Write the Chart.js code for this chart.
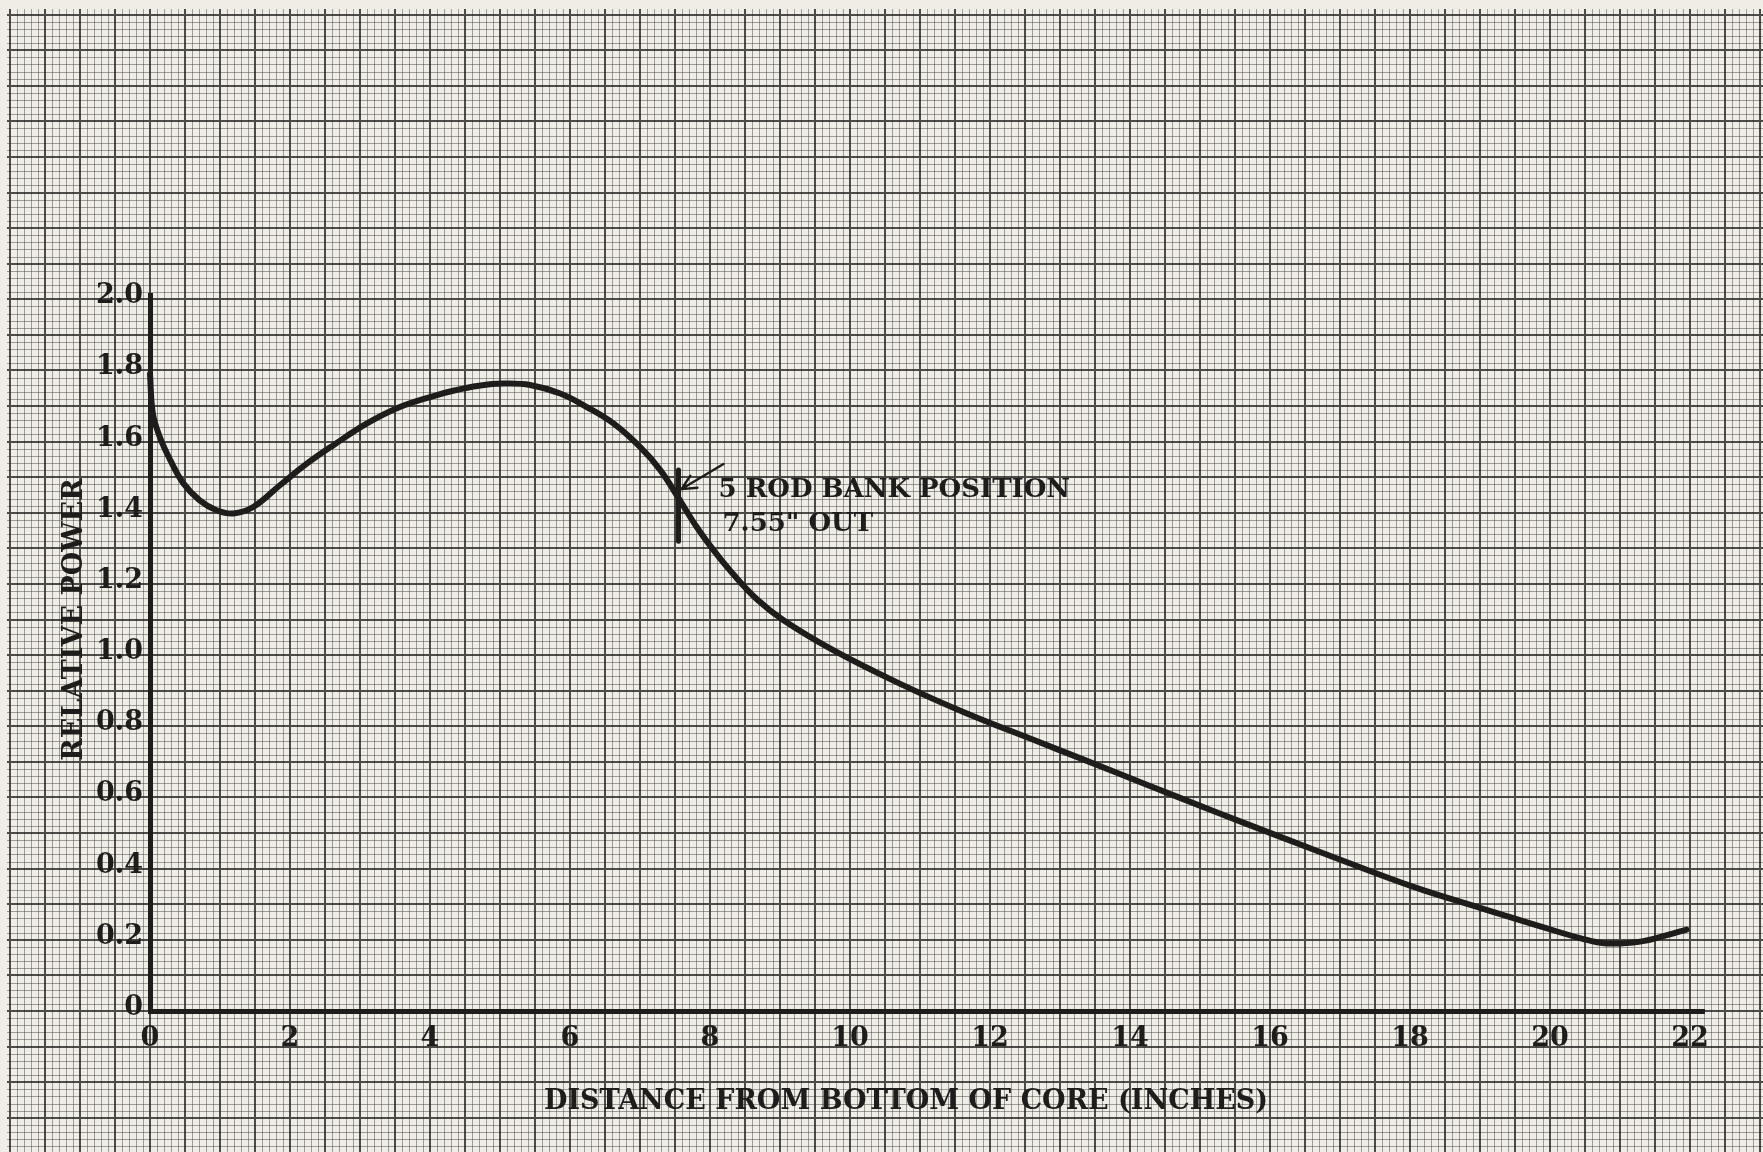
<!DOCTYPE html>
<html>
<head>
<meta charset="utf-8">
<title>Relative Power vs Distance from Bottom of Core</title>
<script src="https://cdn.jsdelivr.net/npm/chart.js@4.4.1/dist/chart.umd.min.js"></script>
<style>
  html, body { margin: 0; padding: 0; background: #efede6; }
  canvas { display: block; }
</style>
</head>
<body>
<canvas id="powerChart" width="1763" height="1152"></canvas>
<script>
// axial power profile along the core
const distanceIn = [0, 0.04, 0.14, 0.29, 0.48, 0.71, 0.95, 1.19, 1.48, 1.86, 2.24, 2.62, 3.10, 3.57, 4.05,
  4.33, 4.70, 5.05, 5.43, 5.86, 6.24, 6.62, 7.00, 7.29, 7.57, 7.81, 8.05, 8.33, 8.67, 9.05, 9.76, 10.71, 11.67,
  12.62, 13.33, 14.24, 15.19, 16.14, 17.10, 18.05, 19.00, 19.86, 20.43, 20.81, 21.29, 21.67, 21.95];
const relativePower = [1.79, 1.68, 1.613, 1.548, 1.482, 1.435, 1.407, 1.398, 1.417, 1.478, 1.538, 1.590, 1.651, 1.697, 1.728,
  1.743, 1.757, 1.763, 1.759, 1.735, 1.697, 1.651, 1.585, 1.520, 1.435, 1.360, 1.295, 1.228, 1.157, 1.098, 1.014, 0.920, 0.836,
  0.762, 0.707, 0.636, 0.562, 0.490, 0.418, 0.349, 0.290, 0.238, 0.205, 0.190, 0.195, 0.213, 0.229];

const xTicks = [0, 2, 4, 6, 8, 10, 12, 14, 16, 18, 20, 22];
const yTicks = [0, 0.2, 0.4, 0.6, 0.8, 1.0, 1.2, 1.4, 1.6, 1.8, 2.0];
const yTickLabels = ["0", "0.2", "0.4", "0.6", "0.8", "1.0", "1.2", "1.4", "1.6", "1.8", "2.0"];

// rod bank position and the extent of its tick mark on the curve
const rodBankPosition = 7.55;
const rodMarkTop = 1.52;
const rodMarkBottom = 1.32;

const ink = "#1f1d1b";
const paper = "#efede6";
const serif = "'DejaVu Serif', 'Liberation Serif', serif";

// ruled graph paper behind everything: 10 lines per inch, heavy every 5th
const graphPaper = {
  id: "graphPaper",
  beforeDraw(chart) {
    const { ctx, width, height } = chart;
    const x = chart.scales.x, y = chart.scales.y;
    ctx.save();
    ctx.fillStyle = paper;
    ctx.fillRect(0, 0, width, height);
    ctx.beginPath();
    ctx.rect(7, 9, width, height);
    ctx.clip();

    const vLines = [], hLines = [];
    const kx0 = Math.floor(x.getValueForPixel(0) * 10) - 1;
    const kx1 = Math.ceil(x.getValueForPixel(width) * 10) + 1;
    for (let k = kx0; k <= kx1; k++) vLines.push({ p: x.getPixelForValue(k / 10), major: k % 5 === 0 });
    const ky0 = Math.floor(y.getValueForPixel(height) * 50) - 1;
    const ky1 = Math.ceil(y.getValueForPixel(0) * 50) + 1;
    for (let k = ky0; k <= ky1; k++) hLines.push({ p: y.getPixelForValue(k / 50), major: k % 5 === 0 });

    // fine rulings
    ctx.strokeStyle = "rgba(60, 58, 54, 0.45)";
    ctx.lineWidth = 1;
    ctx.beginPath();
    vLines.filter(l => !l.major).forEach(l => {
      const p = Math.round(l.p) + 0.5;
      ctx.moveTo(p, 0); ctx.lineTo(p, height);
    });
    hLines.filter(l => !l.major).forEach(l => {
      const p = Math.round(l.p) + 0.5;
      ctx.moveTo(0, p); ctx.lineTo(width, p);
    });
    ctx.stroke();

    // heavy rulings
    ctx.strokeStyle = "rgba(35, 34, 32, 0.8)";
    ctx.lineWidth = 2;
    ctx.beginPath();
    vLines.filter(l => l.major).forEach(l => {
      const p = Math.round(l.p);
      ctx.moveTo(p, 0); ctx.lineTo(p, height);
    });
    hLines.filter(l => l.major).forEach(l => {
      const p = Math.round(l.p);
      ctx.moveTo(0, p); ctx.lineTo(width, p);
    });
    ctx.stroke();
    ctx.restore();
  }
};

// rod bank marker, arrow and note, plus both axis titles
const notes = {
  id: "notes",
  afterDatasetsDraw(chart) {
    const { ctx } = chart;
    const x = chart.scales.x, y = chart.scales.y;
    const mx = x.getPixelForValue(rodBankPosition);
    const top = y.getPixelForValue(rodMarkTop);
    const bottom = y.getPixelForValue(rodMarkBottom);

    ctx.save();
    ctx.strokeStyle = ink;
    ctx.fillStyle = ink;
    ctx.lineCap = "round";

    ctx.lineWidth = 5;
    ctx.beginPath();
    ctx.moveTo(mx, top);
    ctx.lineTo(mx, bottom);
    ctx.stroke();

    // arrow pointing at the marker
    const tipX = mx + 3, tipY = top + 19;
    const tailX = mx + 45, tailY = top - 6;
    const ang = Math.atan2(tailY - tipY, tailX - tipX);
    ctx.lineWidth = 2.4;
    ctx.beginPath();
    ctx.moveTo(tailX, tailY);
    ctx.lineTo(tipX, tipY);
    ctx.moveTo(tipX + 16 * Math.cos(ang - 0.45), tipY + 16 * Math.sin(ang - 0.45));
    ctx.lineTo(tipX, tipY);
    ctx.lineTo(tipX + 16 * Math.cos(ang + 0.45), tipY + 16 * Math.sin(ang + 0.45));
    ctx.stroke();

    ctx.font = "bold 26px " + serif;
    ctx.textAlign = "left";
    ctx.textBaseline = "middle";
    ctx.fillText("5 ROD BANK POSITION", mx + 40, top + 20);
    ctx.fillText("7.55\" OUT", mx + 44, top + 54);

    // axis titles
    ctx.font = "bold 27px " + serif;
    ctx.textAlign = "center";
    ctx.fillText("DISTANCE FROM BOTTOM OF CORE (INCHES)", x.getPixelForValue(10.8), 1102);
    ctx.translate(75, y.getPixelForValue(1.1));
    ctx.rotate(-Math.PI / 2);
    ctx.fillText("RELATIVE POWER", 0, 0);
    ctx.restore();
  }
};

const points = distanceIn.map((d, i) => ({ x: d, y: relativePower[i] }));

new Chart(document.getElementById("powerChart"), {
  type: "line",
  data: {
    datasets: [{
      label: "Relative power",
      data: points,
      borderColor: ink,
      borderWidth: 6,
      pointRadius: 0,
      tension: 0.4,
      borderCapStyle: "round",
      borderJoinStyle: "round",
      clip: false
    }]
  },
  options: {
    responsive: false,
    animation: false,
    devicePixelRatio: 1,
    layout: { padding: { top: 295, right: 59, bottom: 0, left: 0 } },
    plugins: { legend: { display: false }, tooltip: { enabled: false } },
    scales: {
      x: {
        type: "linear",
        min: 0,
        max: 22.2,
        afterBuildTicks: s => { s.ticks = xTicks.map(v => ({ value: v })); },
        afterFit: s => { s.height = 141; },
        grid: { display: false, drawTicks: false },
        border: { display: true, width: 5, color: ink },
        ticks: {
          autoSkip: false,
          maxRotation: 0,
          padding: 12,
          color: ink,
          font: { family: serif, size: 27, weight: "bold" },
          callback: v => String(v)
        }
      },
      y: {
        type: "linear",
        min: 0,
        max: 2.012,
        afterBuildTicks: s => { s.ticks = yTicks.map(v => ({ value: v })); },
        afterFit: s => { s.width = 150; },
        grid: { display: false, drawTicks: false },
        border: { display: true, width: 5, color: ink },
        ticks: {
          padding: 7,
          labelOffset: -3,
          color: ink,
          font: { family: serif, size: 27, weight: "bold" },
          callback: (v, i) => yTickLabels[i]
        }
      }
    }
  },
  plugins: [graphPaper, notes]
});
</script>
</body>
</html>
